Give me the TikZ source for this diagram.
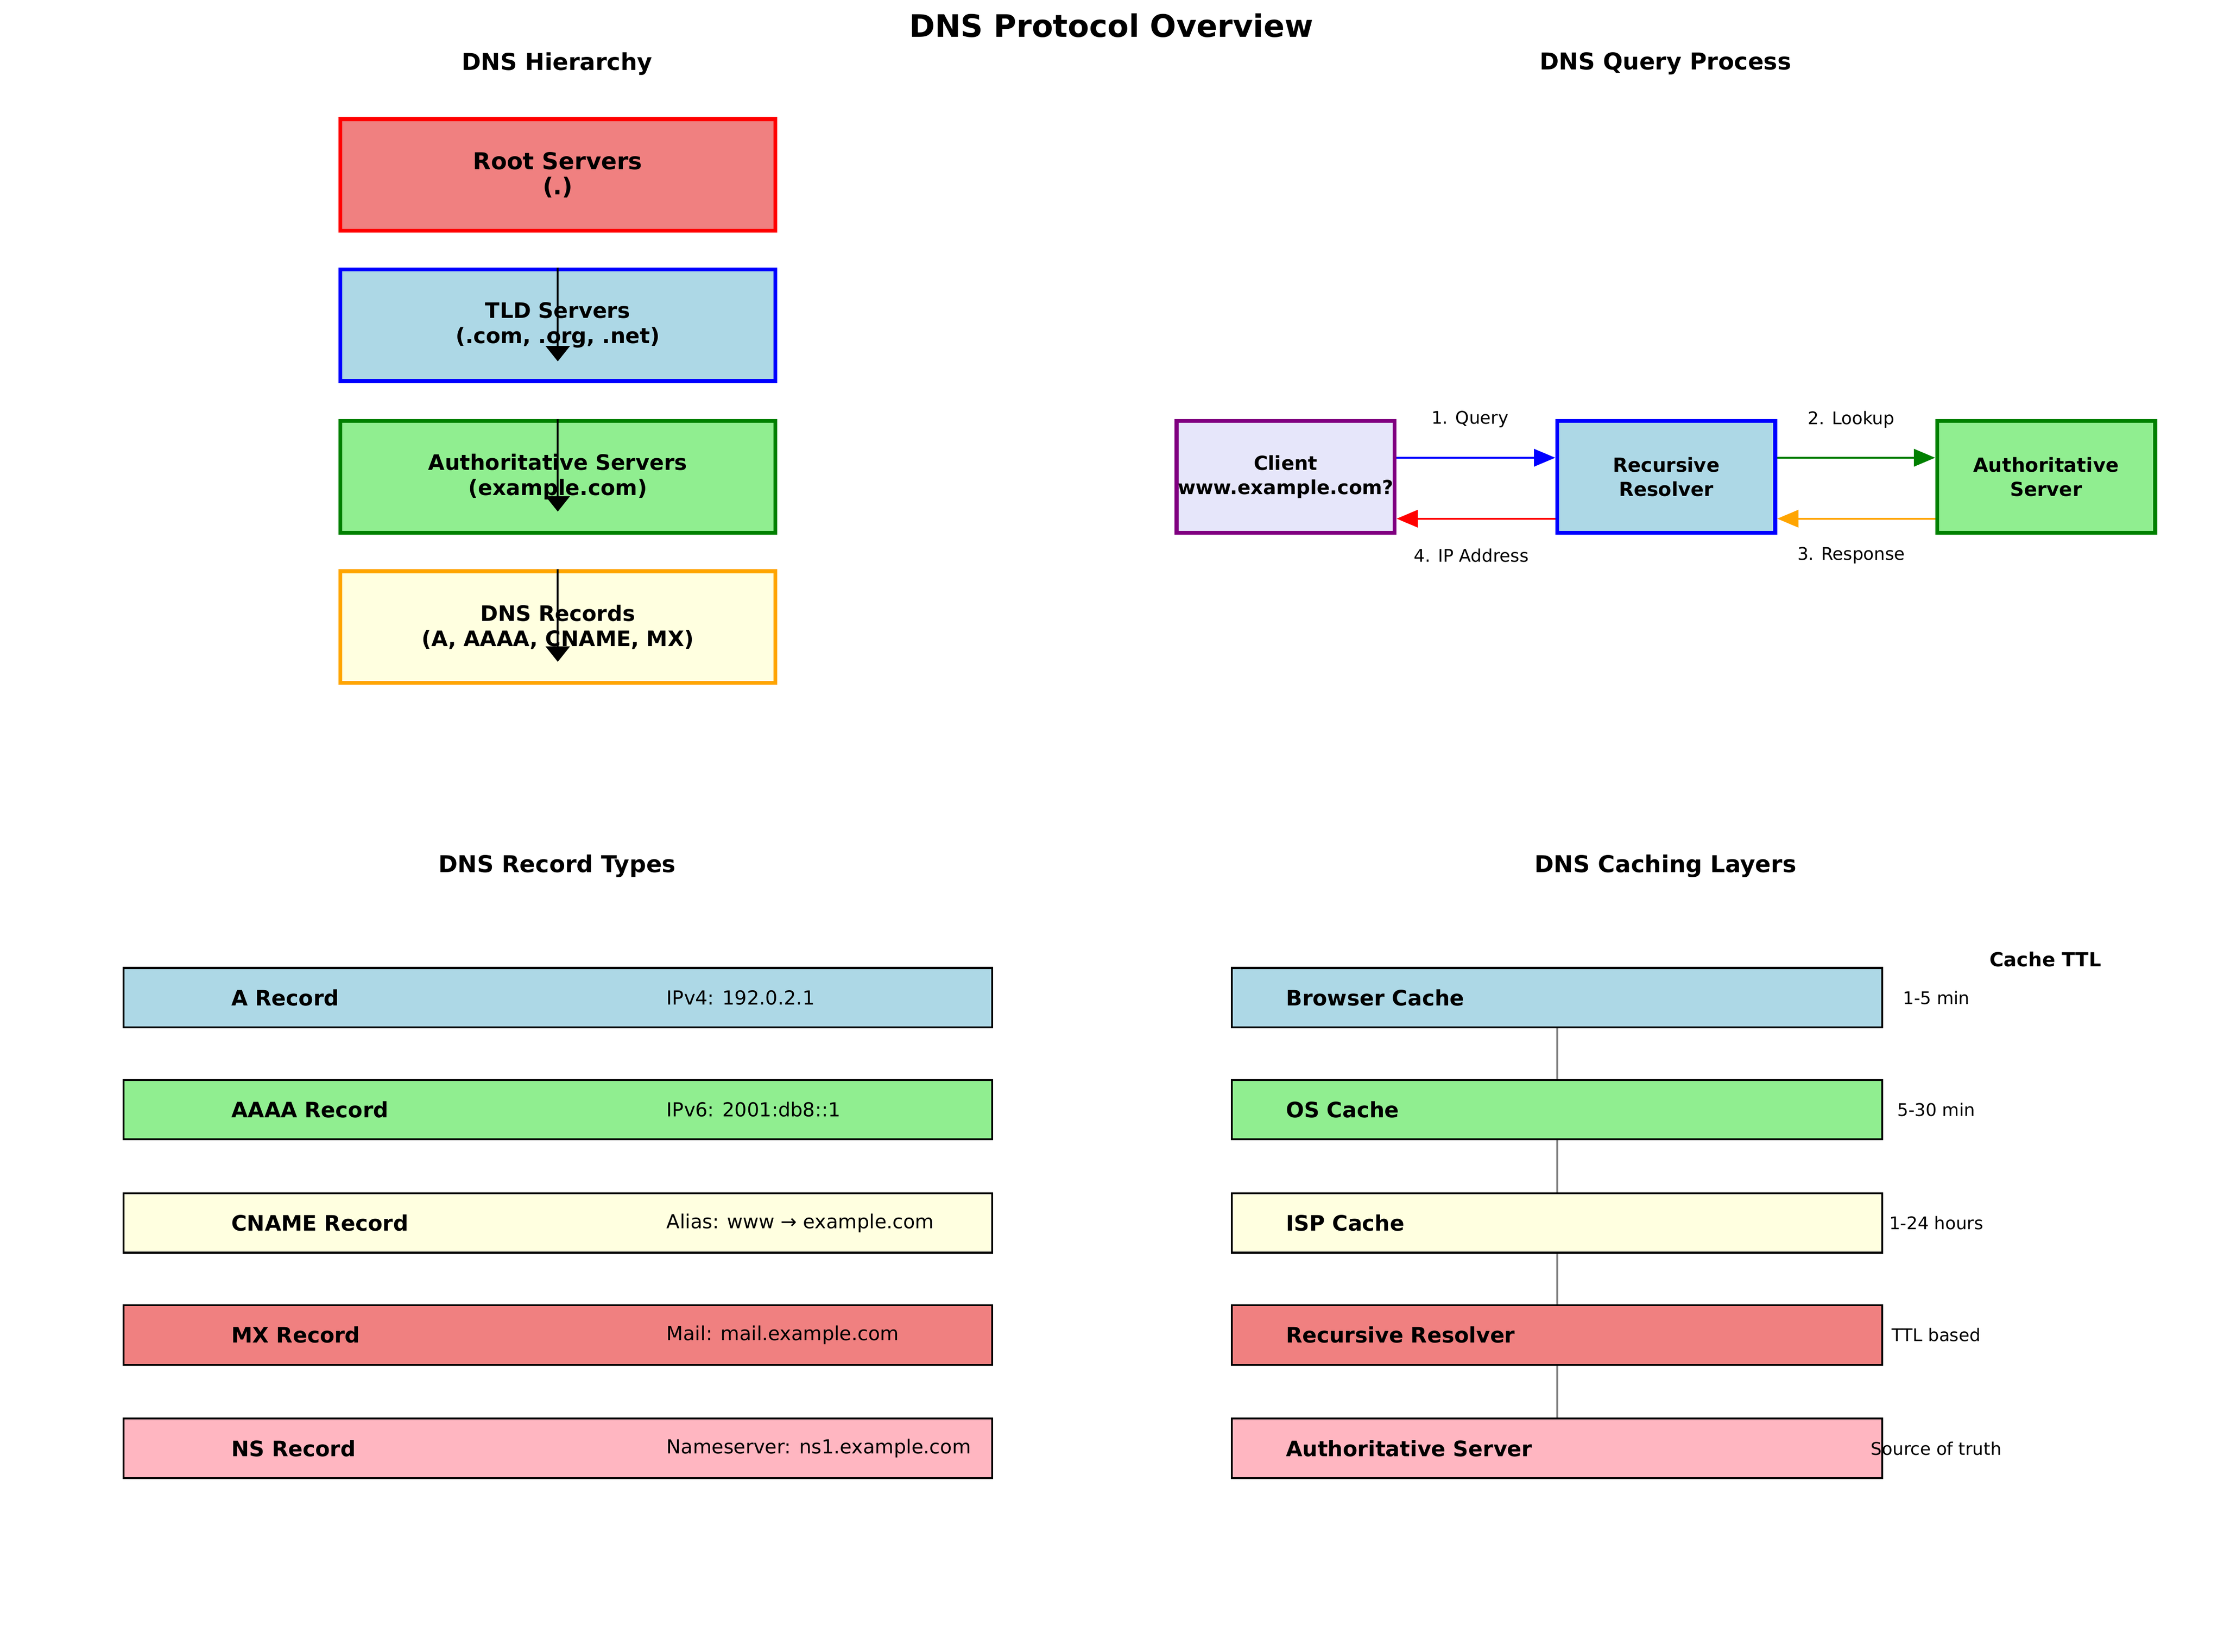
\documentclass[tikz,border=0pt]{standalone}
\usepackage{fontspec}
\setmainfont{DejaVu Sans}
\usetikzlibrary{arrows.meta}

\definecolor{lightcoral}{HTML}{F08080}
\definecolor{lightblue}{HTML}{ADD8E6}
\definecolor{lightgreen}{HTML}{90EE90}
\definecolor{lightyellow}{HTML}{FFFFE0}
\definecolor{lavender}{HTML}{E6E6FA}
\definecolor{lightpink}{HTML}{FFB6C1}
\definecolor{mplgreen}{HTML}{008000}
\definecolor{mplorange}{HTML}{FFA500}
\definecolor{mplpurple}{HTML}{800080}
\definecolor{mplgray}{HTML}{808080}

\begin{document}
\begin{tikzpicture}[x=0.02574cm, y=-0.02574cm,
        hbox/.style={shape=rectangle, line width=2pt, minimum width=7.90cm, minimum height=2.03cm, align=center, font=\fontsize{11}{13}\selectfont\bfseries},
        qbox/.style={shape=rectangle, line width=2pt, minimum width=3.96cm, minimum height=2.03cm, inner xsep=0pt, align=center, font=\fontsize{10}{12.5}\selectfont\bfseries},
        rbox/.style={shape=rectangle, draw=black, line width=1pt, minimum width=15.77cm, minimum height=1.08cm},
        cbox/.style={shape=rectangle, draw=black, line width=1pt, minimum width=11.81cm, minimum height=1.08cm},
        heading/.style={font=\fontsize{12}{14}\selectfont\bfseries},
        boldlabel/.style={anchor=west, inner sep=0pt, font=\fontsize{11}{13}\selectfont\bfseries},
        valuelabel/.style={anchor=west, inner sep=0pt, font=\fontsize{10}{12}\selectfont},
        small/.style={inner sep=0pt, font=\fontsize{9}{11}\selectfont},
        harrow/.style={-{Triangle[length=8pt,width=12.5pt]}, line width=1pt, black},
        qarrow/.style={-{Triangle[length=11pt,width=9pt]}, line width=1pt},
        cline/.style={mplgray, line width=1pt}]
        \useasboundingbox (0,0) rectangle (1569,1165.5);

        % titles
        \node[font=\fontsize{16}{19}\selectfont\bfseries] (title) at (784,18) {DNS Protocol Overview};
        \node[heading] (hiertitle)  at (393,45)   {DNS Hierarchy};
        \node[heading] (querytitle) at (1175,45)  {DNS Query Process};
        \node[heading] (rectitle)   at (393,611)  {DNS Record Types};
        \node[heading] (cachetitle) at (1175,611) {DNS Caching Layers};

        % hierarchy
        \node[hbox,draw=red,fill=lightcoral,font=\fontsize{12}{13}\selectfont\bfseries] (root) at (393.5,123.5) {Root Servers\\(.)};
        \node[hbox,draw=blue,fill=lightblue]       (tld)  at (393.5,229.5) {TLD Servers\\(.com, .org, .net)};
        \node[hbox,draw=mplgreen,fill=lightgreen]  (auth) at (393.5,336.5) {Authoritative Servers\\(example.com)};
        \node[hbox,draw=mplorange,fill=lightyellow] (recs) at (393.5,442.5) {DNS Records\\(A, AAAA, CNAME, MX)};

        \coordinate (tldtip)  at (393.5,255);
        \coordinate (authtip) at (393.5,361);
        \coordinate (recstip) at (393.5,467);
        \path [harrow](tld.north) edge (tldtip);
        \path [harrow](auth.north) edge (authtip);
        \path [harrow](recs.north) edge (recstip);

        % query process
        \node[qbox,draw=mplpurple,fill=lavender]  (client)   at (907,336.5)  {Client\\www.example.com?};
        \node[qbox,draw=blue,fill=lightblue]      (resolver) at (1175.5,336.5) {Recursive\\Resolver};
        \node[qbox,draw=mplgreen,fill=lightgreen] (authsrv)  at (1443.5,336.5) {Authoritative\\Server};

        \path [qarrow,blue](client.east |- 0,323) edge (resolver.west |- 0,323);
        \path [qarrow,mplgreen](resolver.east |- 0,323) edge (authsrv.west |- 0,323);
        \path [qarrow,mplorange](authsrv.west |- 0,366) edge (resolver.east |- 0,366);
        \path [qarrow,red](resolver.west |- 0,366) edge (client.east |- 0,366);

        \node[small] (lquery)    at (1037,296) {1. Query};
        \node[small] (llookup)   at (1306,296) {2. Lookup};
        \node[small] (lresponse) at (1306,392) {3. Response};
        \node[small] (lip)       at (1038,392) {4. IP Address};

        % record types
        \node[rbox,fill=lightblue]   (arec)     at (393.5,704)  {};
        \node[rbox,fill=lightgreen]  (aaaarec)  at (393.5,783)  {};
        \node[rbox,fill=lightyellow] (cnamerec) at (393.5,863)  {};
        \node[rbox,fill=lightcoral]  (mxrec)    at (393.5,942)  {};
        \node[rbox,fill=lightpink]   (nsrec)    at (393.5,1022) {};

        \node[boldlabel] (aname)     at (163,704)  {A Record};
        \node[boldlabel] (aaaaname)  at (163,783)  {AAAA Record};
        \node[boldlabel] (cnamename) at (163,863)  {CNAME Record};
        \node[boldlabel] (mxname)    at (163,942)  {MX Record};
        \node[boldlabel] (nsname)    at (163,1022) {NS Record};

        \node[valuelabel] (aval)     at (470,704)  {IPv4: 192.0.2.1};
        \node[valuelabel] (aaaaval)  at (470,783)  {IPv6: 2001:db8::1};
        \node[valuelabel] (cnameval) at (470,863)  {Alias: www → example.com};
        \node[valuelabel] (mxval)    at (470,942)  {Mail: mail.example.com};
        \node[valuelabel] (nsval)    at (470,1022) {Nameserver: ns1.example.com};

        % caching layers
        \node[cbox,fill=lightblue]   (browser) at (1098.5,704)  {};
        \node[cbox,fill=lightgreen]  (os)      at (1098.5,783)  {};
        \node[cbox,fill=lightyellow] (isp)     at (1098.5,863)  {};
        \node[cbox,fill=lightcoral]  (rescache) at (1098.5,942) {};
        \node[cbox,fill=lightpink]   (authcache) at (1098.5,1022) {};

        \path [cline](browser.south) edge (os.north);
        \path [cline](os.south) edge (isp.north);
        \path [cline](isp.south) edge (rescache.north);
        \path [cline](rescache.south) edge (authcache.north);

        \node[boldlabel] (browsername) at (907,704)  {Browser Cache};
        \node[boldlabel] (osname)      at (907,783)  {OS Cache};
        \node[boldlabel] (ispname)     at (907,863)  {ISP Cache};
        \node[boldlabel] (resname)     at (907,942)  {Recursive Resolver};
        \node[boldlabel] (authname)    at (907,1022) {Authoritative Server};

        \node[font=\fontsize{10}{12}\selectfont\bfseries, inner sep=0pt] (ttlhead) at (1443,677) {Cache TTL};
        \node[small] (ttlbrowser) at (1366,704)  {1-5 min};
        \node[small] (ttlos)      at (1366,783)  {5-30 min};
        \node[small] (ttlisp)     at (1366,863)  {1-24 hours};
        \node[small] (ttlres)     at (1366,942)  {TTL based};
        \node[small] (ttlauth)    at (1366,1022) {Source of truth};
    \end{tikzpicture}
\end{document}
